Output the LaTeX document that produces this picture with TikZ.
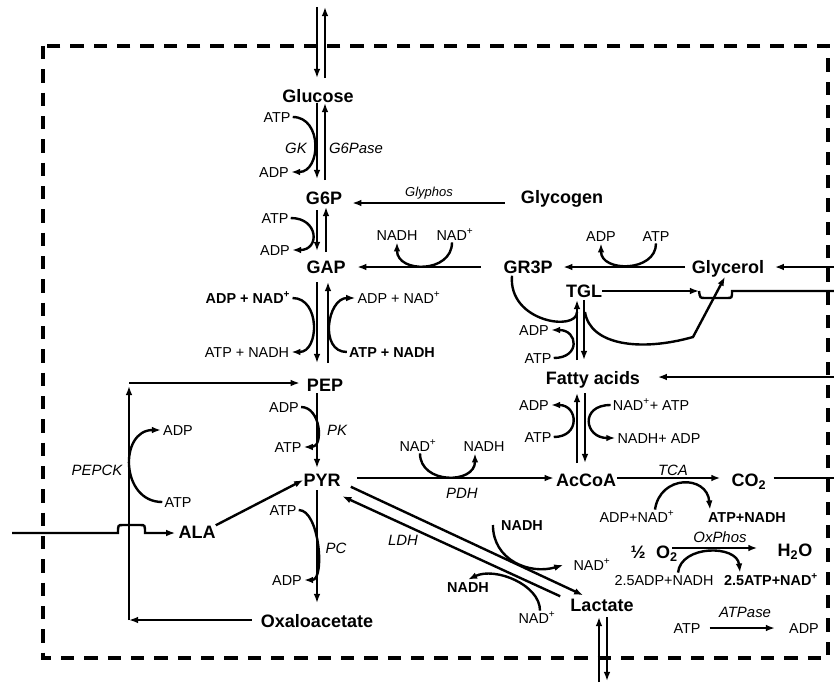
\documentclass[tikz,border=0pt]{standalone}
\usepackage{fontspec}
\setmainfont{Liberation Sans}
\usetikzlibrary{arrows.meta}
\begin{document}
\begin{tikzpicture}[x=0.75pt,y=-0.75pt,
 met/.style={font=\fontsize{13.5}{14}\selectfont\bfseries,inner sep=0pt,text height=9.7pt,text depth=0pt},
 lab/.style={font=\fontsize{10.8}{12}\selectfont,inner sep=1.5pt,text height=7.7pt,text depth=0pt},
 blab/.style={lab,font=\fontsize{10.8}{12}\selectfont\bfseries},
 enz/.style={font=\fontsize{11.2}{12}\selectfont\itshape,inner sep=0pt,text height=8pt,text depth=0pt},
 flow/.style={line width=1.8pt,-{Latex[length=6.8pt,width=5pt]}},
 ln/.style={line width=1.8pt},
 cellbox/.style={line width=2.8pt,dash pattern=on 10pt off 7.5pt}
]
\useasboundingbox (0,0) rectangle (834,685);
\draw[cellbox] (43,46) rectangle (828,658);

% metabolites
\node[met] (glc) at (318,96) {Glucose};
\node[met] (g6p) at (324,198) {G6P};
\node[met] (glycogen) at (562,197) {Glycogen};
\node[met] (gap) at (326,267) {GAP};
\node[met] (gr3p) at (528,267) {GR3P};
\node[met] (glycerol) at (728,267) {Glycerol};
\node[met] (tgl) at (584,291) {TGL};
\node[met] (fa) at (593,378) {Fatty acids};
\node[met] (pep) at (325,385) {PEP};
\node[met] (pyr) at (322,480) {PYR};
\node[met] (accoa) at (586,480) {AcCoA};
\node[met] (co2) at (749,480) {CO\textsubscript{2}};
\node[met] (ala) at (197,532) {ALA};
\node[met] (half) at (638,552) {½};
\node[met] (o2) at (667,552) {O\textsubscript{2}};
\node[met] (h2o) at (795,550) {H\textsubscript{2}O};
\node[met] (lactate) at (602,605) {Lactate};
\node[met] (oaa) at (317,621) {Oxaloacetate};

% cofactor labels
\node[lab] (atp1) at (277,117) {ATP};
\node[lab] (adp1) at (274,172) {ADP};
\node[lab] (atp2) at (275,218) {ATP};
\node[lab] (adp2) at (275,250) {ADP};
\node[lab] (nadh1) at (397,235) {NADH};
\node[lab] (nad1) at (455,235) {NAD\textsuperscript{+}};
\node[lab] (adp6) at (601,236) {ADP};
\node[lab] (atp6) at (656,236) {ATP};
\node[blab] (la) at (248,298) {ADP + NAD\textsuperscript{+}};
\node[lab] (lb) at (247,352) {ATP + NADH};
\node[lab] (ra) at (399,298) {ADP + NAD\textsuperscript{+}};
\node[blab] (rb) at (392,352) {ATP + NADH};
\node[lab] (adp7) at (534,330) {ADP};
\node[lab] (atp7) at (538,358) {ATP};
\node[lab] (adp8) at (534,405) {ADP};
\node[lab] (atp8) at (538,437) {ATP};
\node[lab] (nadatp) at (651,405) {NAD\textsuperscript{+}+ ATP};
\node[lab] (nadhadp) at (659,438) {NADH+ ADP};
\node[lab] (adp3) at (284,407) {ADP};
\node[lab] (atp3) at (288,447) {ATP};
\node[lab] (adp5) at (178,430) {ADP};
\node[lab] (atp5) at (178,502) {ATP};
\node[lab] (nad2) at (418,446) {NAD\textsuperscript{+}};
\node[lab] (nadh2) at (484,446) {NADH};
\node[lab] (adpnad) at (637,517) {ADP+NAD\textsuperscript{+}};
\node[blab] (atpnadh) at (747,517) {ATP+NADH};
\node[lab] (atp4) at (283,510) {ATP};
\node[lab] (adp4) at (287,580) {ADP};
\node[blab] (nadh3) at (522,525) {NADH};
\node[lab] (nad3) at (592,565) {NAD\textsuperscript{+}};
\node[blab] (nadh4) at (468,587) {NADH};
\node[lab] (nad4) at (537,618) {NAD\textsuperscript{+}};
\node[lab] (adpnadh2) at (664,580) {2.5ADP+NADH};
\node[blab] (atpnad2) at (771,580) {2.5ATP+NAD\textsuperscript{+}};
\node[lab] (atp9) at (687,628) {ATP};
\node[lab] (adp9) at (804,628) {ADP};

% enzymes
\node[enz] (gk) at (296,148) {GK};
\node[enz] (g6pase) at (356,148) {G6Pase};
\node[enz,font=\fontsize{9.75}{11}\selectfont\itshape] (glyphos) at (429,191) {Glyphos};
\node[enz] (pk) at (337,430) {PK};
\node[enz] (pepck) at (97,470) {PEPCK};
\node[enz] (pdh) at (462,493) {PDH};
\node[enz] (tca) at (673,470) {TCA};
\node[enz] (ldh) at (403,540) {LDH};
\node[enz] (pc) at (336,548) {PC};
\node[enz] (oxphos) at (720,537) {OxPhos};
\node[enz] (atpase) at (745,612) {ATPase};

% free ends of connectors
\coordinate (gtL1) at (317,7);   \coordinate (gtL2) at (317,78);
\coordinate (gtR1) at (325,78);  \coordinate (gtR2) at (325,7);
\coordinate (a1) at (317,103);   \coordinate (a2) at (317,179);
\coordinate (a3) at (325,180);   \coordinate (a4) at (325,103);
\coordinate (b1) at (317,210);   \coordinate (b2) at (317,251);
\coordinate (b3) at (326,252);   \coordinate (b4) at (326,207);
\coordinate (c1) at (317,282);   \coordinate (c2) at (317,363);
\coordinate (c3) at (328,363);   \coordinate (c4) at (328,282);
\coordinate (d1) at (317,393);   \coordinate (d2) at (317,468);
\coordinate (e1) at (317,490);   \coordinate (e2) at (317,603);
\coordinate (f1) at (577,360);   \coordinate (f2) at (577,300);
\coordinate (f3) at (584,300);   \coordinate (f4) at (584,360);
\coordinate (g1) at (577,463);   \coordinate (g2) at (577,393);
\coordinate (g3) at (585,393);   \coordinate (g4) at (585,463);
\coordinate (h1) at (599,682);   \coordinate (h2) at (599,617);
\coordinate (h3) at (607,617);   \coordinate (h4) at (607,681);
\coordinate (edgeGly) at (834,267);
\coordinate (edgeTGL) at (834,291);
\coordinate (edgeFA) at (834,377);
\coordinate (edgeCO2) at (834,478);
\coordinate (bumpA) at (699,291);
\coordinate (alain) at (12,533);
\coordinate (cL) at (129,620);
\coordinate (cU) at (129,383);
\coordinate (cUa) at (129,386);
\coordinate (kink) at (693,337);

% main vertical chain
\draw[flow] (gtL1) -- (gtL2);
\draw[flow] (gtR1) -- (gtR2);
\draw[flow] (a1) -- (a2);
\draw[flow] (a3) -- (a4);
\draw[flow] (b1) -- (b2);
\draw[flow] (b3) -- (b4);
\draw[flow] (c1) -- (c2);
\draw[flow] (c3) -- (c4);
\draw[flow] (d1) -- (d2);
\draw[flow] (e1) -- (e2);
\draw[flow] (f1) -- (f2);
\draw[flow] (f3) -- (f4);
\draw[flow] (g1) -- (g2);
\draw[flow] (g3) -- (g4);
\draw[flow] (h1) -- (h2);
\draw[flow] (h3) -- (h4);

% horizontal arrows
\draw[flow] ([shift={(-16,6)}]glycogen.west) -- ([shift={(10,5)}]g6p.east);
\draw[flow] ([shift={(-22.5,0)}]gr3p.west) -- ([shift={(11.5,0)}]gap.east);
\draw[flow] ([shift={(-6.5,0)}]glycerol.west) -- ([shift={(10.5,0)}]gr3p.east);
\draw[flow] (edgeGly) -- ([shift={(10.5,0)}]glycerol.east);
\draw[flow] (tgl.east) -- (bumpA);
\draw[ln] (bumpA) .. controls (700,298) .. (705,298) -- (727,298) .. controls (732,298) .. (732,291) -- (edgeTGL);
\draw[flow] (edgeFA) -- ([shift={(17.5,-1)}]fa.east);
\draw[flow] ([shift={(16,-2)}]pyr.east) -- ([shift={(-2,-2)}]accoa.west);
\draw[flow] ([shift={(1,-2)}]accoa.east) -- ([shift={(-11,-2)}]co2.west);
\draw[ln] ([shift={(7,-2)}]co2.east) -- (edgeCO2);
\draw[flow] ([shift={(-6,-4)}]o2.east) -- ([shift={(-20,-2)}]h2o.west);
\draw[flow] ([shift={(7,0)}]atp9.east) -- ([shift={(-12,0)}]adp9.west);

% PEPCK loop and ALA
\draw[flow] ([shift={(-9,-1)}]oaa.west) -- (cL);
\draw[flow] (cL) -- (cUa);
\draw[flow] (cU) -- ([shift={(-7,-2)}]pep.west);
\draw[flow] (alain) -- (118,533) .. controls (118,525) .. (123,525) -- (140,525) .. controls (145,525) .. (145,533) -- ([shift={(-3,1)}]ala.west);
\draw[flow] (ala.north east) -- (pyr.west);

% LDH
\draw[flow] ([shift={(10,0)}]pyr.south east) -- ([shift={(13,-3)}]lactate.north west);
\draw[flow] ([shift={(-10,-2)}]lactate.north west) -- ([shift={(1.5,9.5)}]pyr.south east);

% TGL branches
\draw[ln] ([shift={(-16,2)}]gr3p.south) .. controls (508,322) and (577,332) .. (577,312);
\draw[flow] (585,312) .. controls (590,345) and (640,352) .. (kink) -- ([shift={(-3,3)}]glycerol.south);

% cofactor curves
\draw[flow] (atp1.east) .. controls +(30,0) and +(30,0) .. (adp1.east);
\draw[flow] (atp2.east) .. controls +(28,0) and +(28,0) .. (adp2.east);
\draw[flow] (la.east) .. controls +(28,0) and +(28,0) .. (lb.east);
\draw[flow] (rb.west) .. controls +(-28,0) and +(-28,0) .. (ra.west);
\draw[flow] ([shift={(-3,0)}]nad1.south) .. controls +(0,31) and +(0,31) .. (nadh1.south);
\draw[flow] (atp6.south) .. controls +(0,29) and +(0,29) .. (adp6.south);
\draw[flow] (atp7.east) .. controls +(27,0) and +(27,0) .. (adp7.east);
\draw[flow] (atp8.east) .. controls +(27,0) and +(27,0) .. (adp8.east);
\draw[flow] (nadatp.west) .. controls +(-31,0) and +(-31,0) .. (nadhadp.west);
\draw[flow] (adp3.east) .. controls +(20,0) and +(20,0) .. (atp3.east);
\draw[flow] (atp4.east) .. controls +(21,0) and +(21,0) .. (adp4.east);
\draw[flow] (atp5.west) .. controls +(-42,0) and +(-42,0) .. (adp5.west);
\draw[flow] ([shift={(2,0)}]nad2.south) .. controls +(0,31) and +(0,31) .. ([shift={(-9,0)}]nadh2.south);
\draw[flow] ([shift={(18,0)}]adpnad.north) .. controls +(5,-35) and +(-3,-35) .. ([shift={(-37,0)}]atpnadh.north);
\draw[flow] ([shift={(14,0)}]adpnadh2.north) .. controls +(3,-28) and +(-3,-28) .. ([shift={(-31,0)}]atpnad2.north);
\draw[flow] ([shift={(-6,0)}]nadh3.west) .. controls +(0,35) and +(-34,10) .. ([shift={(-8,0)}]nad3.west);
\draw[flow] ([shift={(3,0)}]nad4.north) .. controls +(0,-26) and +(27,-13) .. (nadh4.north);
\end{tikzpicture}
\end{document}
